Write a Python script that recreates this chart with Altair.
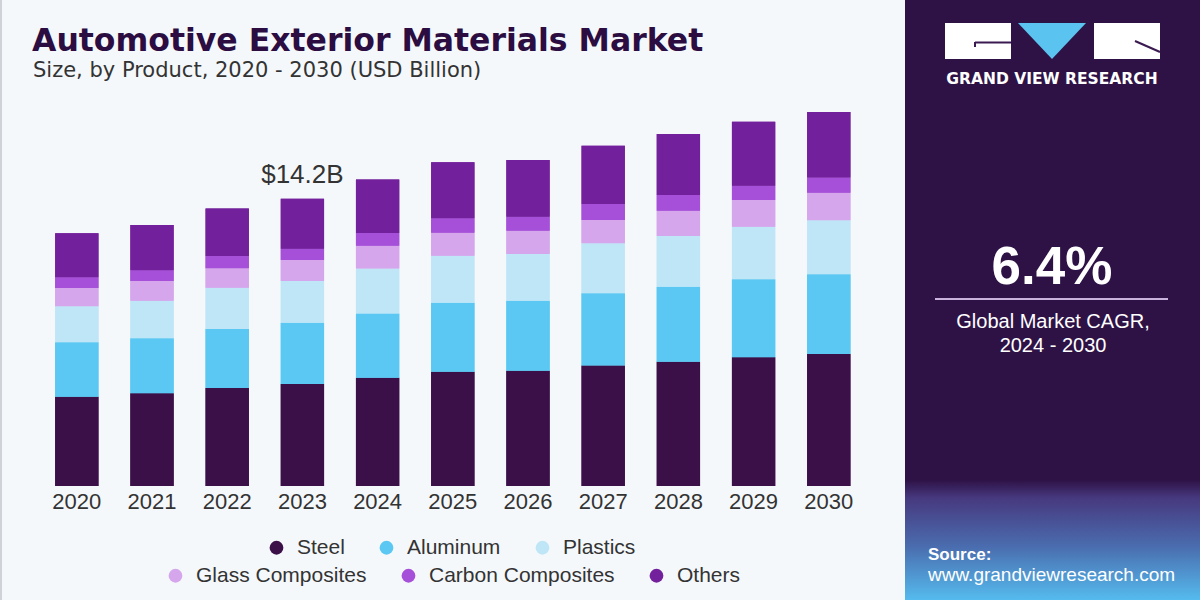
import altair as alt
import pandas as pd

# ---- data (USD Billion) ----
years = ["2020", "2021", "2022", "2023", "2024", "2025", "2026", "2027", "2028", "2029", "2030"]
products = ["Steel", "Aluminum", "Plastics", "Glass Composites", "Carbon Composites", "Others"]
steel = [4.41, 4.58, 4.84, 5.04, 5.35, 5.65, 5.70, 5.95, 6.14, 6.36, 6.52]
aluminum = [2.69, 2.72, 2.92, 3.03, 3.18, 3.41, 3.45, 3.58, 3.71, 3.86, 3.95]
plastics = [1.79, 1.86, 2.04, 2.06, 2.22, 2.32, 2.32, 2.47, 2.51, 2.59, 2.67]
glass = [0.90, 0.97, 0.96, 1.04, 1.12, 1.14, 1.15, 1.15, 1.24, 1.32, 1.35]
carbon = [0.53, 0.53, 0.61, 0.56, 0.64, 0.71, 0.69, 0.79, 0.78, 0.71, 0.76]
others = [2.17, 2.24, 2.34, 2.47, 2.64, 2.77, 2.80, 2.88, 3.02, 3.16, 3.24]
highlight_year = "2023"
cagr_text = "6.4%"

colors = ["#3b1049", "#5ac8f2", "#bfe6f7", "#d5a6ec", "#a64fd8", "#73209c"]

series = [steel, aluminum, plastics, glass, carbon, others]
rows = []
for idx, (name, vals) in enumerate(zip(products, series)):
    for y, v in zip(years, vals):
        rows.append({"year": y, "product": name, "value": v, "idx": idx})
df = pd.DataFrame(rows)
one = pd.DataFrame({"k": [0]})

FONT = "Liberation Sans"
BG = "#f5f8fb"
PANEL = "#2e1246"

x_scale = alt.Scale(domain=years, range=[32.6, 873.0], paddingInner=0.424, paddingOuter=0.3)
y_scale = alt.Scale(domain=[0, 24.02], range=[486, 0])
color_scale = alt.Scale(domain=products, range=colors)


def legend_row(values, lx, ly):
    return alt.Legend(
        values=values, orient="none", legendX=lx, legendY=ly, direction="horizontal",
        title=None, symbolType="circle", symbolSize=190, symbolStrokeWidth=0,
        labelFontSize=21, labelFont=FONT, labelColor="#333333", labelOffset=10,
        labelLimit=0, columnPadding=31, padding=0,
    )


base = alt.Chart(df).encode(
    x=alt.X("year:O", scale=x_scale, axis=None),
    y=alt.Y("value:Q", scale=y_scale, stack="zero", axis=None),
    order=alt.Order("idx:Q"),
)

bars_top_row = base.mark_bar().encode(
    color=alt.Color("product:N", scale=color_scale, legend=legend_row(products[:3], 266, 537))
)
bars_bottom_row = base.mark_bar().encode(
    fill=alt.Fill("product:N", scale=color_scale, legend=legend_row(products[3:], 165, 565))
)

year_labels = alt.Chart(pd.DataFrame({"year": years})).mark_text(
    font=FONT, fontSize=22, color="#333333", baseline="middle"
).encode(x=alt.X("year:O", scale=x_scale, axis=None), y=alt.value(502), text="year:N")

total_label = alt.Chart(df).transform_aggregate(
    total="sum(value)", groupby=["year"]
).transform_filter(
    alt.datum.year == highlight_year
).transform_calculate(
    label="'$' + format(datum.total, '.1f') + 'B'"
).mark_text(font=FONT, fontSize=26, color="#333333", baseline="alphabetic", dy=-16).encode(
    x=alt.X("year:O", scale=x_scale, axis=None),
    y=alt.Y("total:Q", scale=y_scale, axis=None),
    text="label:N",
)


def text(txt, x, y, size, color="#ffffff", weight="normal", align="left", font=FONT, baseline="alphabetic"):
    return alt.Chart(one).mark_text(
        text=txt, fontSize=size, color=color, fontWeight=weight, align=align, font=font, baseline=baseline
    ).encode(x=alt.value(x), y=alt.value(y))


def rect(x, x2, y, y2, color):
    return alt.Chart(one).mark_rect(color=color).encode(
        x=alt.value(x), x2=alt.value(x2), y=alt.value(y), y2=alt.value(y2)
    )


def rule(x, x2, y, y2, color, w):
    return alt.Chart(one).mark_rule(color=color, strokeWidth=w).encode(
        x=alt.value(x), x2=alt.value(x2), y=alt.value(y), y2=alt.value(y2)
    )


# headline
title = text("Automotive Exterior Materials Market", 32, 51, 31.5, color="#2b0d42", weight="bold", font="DejaVu Sans")
subtitle = text("Size, by Product, 2020 - 2030 (USD Billion)", 33, 77, 21, color="#333333", font="DejaVu Sans")
left_edge = rule(1, 1, 0, 600, "#cfd2d6", 2)

# side panel
panel = rect(905, 1200, 0, 600, PANEL)
glow = alt.Chart(one).mark_rect(
    color=alt.LinearGradient(
        gradient="linear", x1=0, x2=0, y1=0, y2=1,
        stops=[
            alt.GradientStop(offset=0, color=PANEL),
            alt.GradientStop(offset=0.15, color="#47397f"),
            alt.GradientStop(offset=0.55, color="#4a6cae"),
            alt.GradientStop(offset=1, color="#55bbee"),
        ],
    )
).encode(x=alt.value(905), x2=alt.value(1200), y=alt.value(480), y2=alt.value(600))

logo = [
    rect(945, 1011, 23, 59, "#ffffff"),
    rect(1094, 1160, 23, 59, "#ffffff"),
    alt.Chart(one).mark_point(
        shape="M-1,-0.53L1,-0.53L0,0.53Z", size=4624, filled=True, color="#5bc3f0", opacity=1, strokeWidth=0
    ).encode(x=alt.value(1052), y=alt.value(41)),
    rule(975, 1011, 42.5, 42.5, "#3a1a50", 2),
    rule(975, 975, 42, 47, "#3a1a50", 2),
    rule(1135, 1160, 41, 52, "#3a1a50", 2),
    text("GRAND VIEW RESEARCH", 1052, 84, 15.5, weight="bold", align="center", font="DejaVu Sans"),
]

cagr = [
    text(cagr_text, 1052, 284, 53, weight="bold", align="center"),
    rule(935, 1168, 299, 299, "#c9b3dc", 2),
    text("Global Market CAGR,", 1053, 328, 20, align="center"),
    text("2024 - 2030", 1053, 352, 20, align="center"),
]

source = [
    text("Source:", 928, 560, 17, weight="bold"),
    text("www.grandviewresearch.com", 928, 581, 19),
]

chart = alt.layer(
    left_edge, panel, glow, *logo, *cagr, *source, title, subtitle,
    bars_top_row, bars_bottom_row, year_labels, total_label,
).resolve_scale(color="independent", fill="independent").properties(
    width=1200, height=600, autosize=alt.AutoSizeParams(type="none"), padding=0, background=BG
).configure_view(stroke=None)

chart.save("out.html", embed_options={"renderer": "svg", "actions": False})
